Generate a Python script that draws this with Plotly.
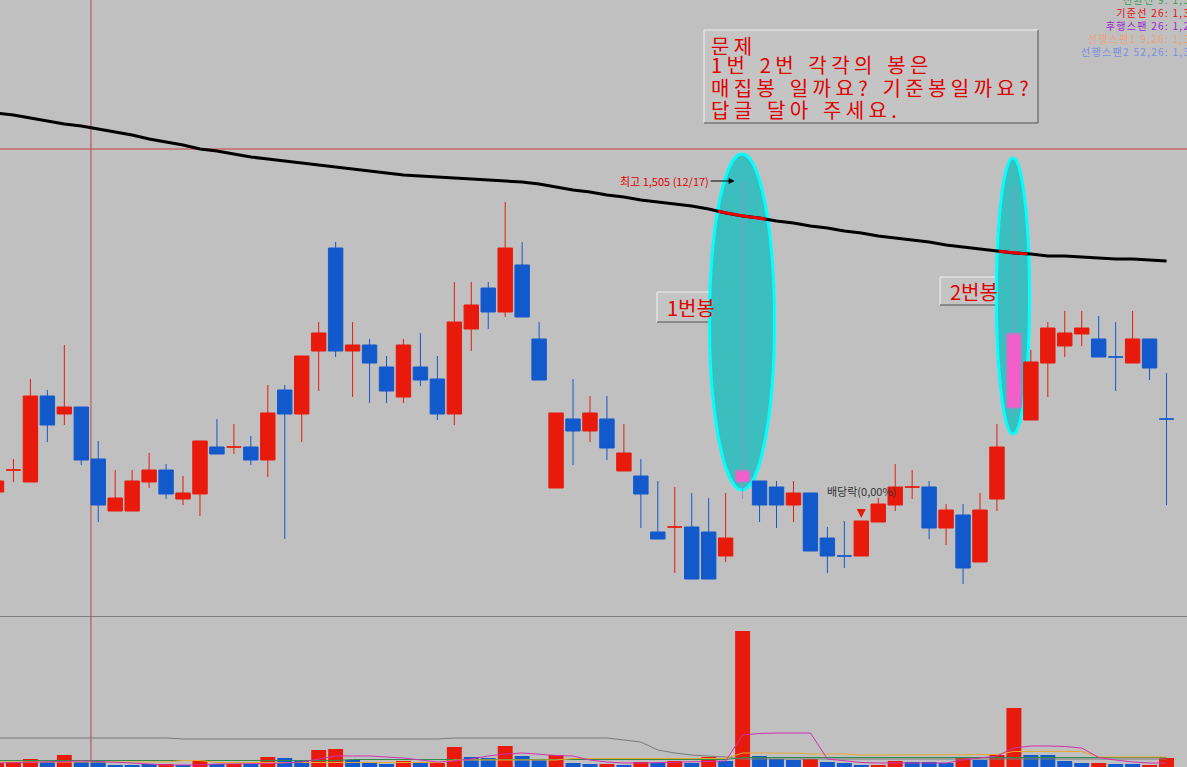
import numpy as np
import plotly.graph_objects as go

# 일봉 (화면에서 읽은 값, 원)
open_ = [1194, 1216, 1204, 1290, 1272, 1279, 1227, 1175, 1175, 1204,
         1216, 1187, 1192, 1239, 1239, 1239, 1226, 1296, 1272, 1335,
         1438, 1335, 1341, 1319, 1289, 1319, 1307, 1272, 1357, 1398,
         1374, 1421, 1347, 1198, 1267, 1255, 1267, 1215, 1210, 1154,
         1159, 1159, 1154, 1130, 1204, 1205, 1199, 1181, 1193, 1148,
         1130, 1130, 1164, 1181, 1199, 1199, 1158, 1171, 1124, 1187,
         1278, 1266, 1323, 1340, 1352, 1347, 1329, 1323, 1347, 1267]
high = [1205, 1227, 1307, 1296, 1341, 1279, 1245, 1216, 1216, 1233,
        1222, 1210, 1245, 1267, 1262, 1250, 1301, 1301, 1330, 1364,
        1444, 1364, 1347, 1330, 1347, 1353, 1330, 1404, 1404, 1404,
        1484, 1444, 1364, 1273, 1307, 1290, 1290, 1262, 1227, 1205,
        1199, 1193, 1188, 1193, 1505, 1205, 1205, 1205, 1193, 1159,
        1165, 1165, 1188, 1222, 1216, 1205, 1182, 1182, 1193, 1262,
        1500, 1336, 1364, 1375, 1375, 1370, 1364, 1375, 1347, 1313]
low = [1194, 1204, 1204, 1244, 1261, 1221, 1164, 1175, 1175, 1198,
       1187, 1181, 1170, 1232, 1232, 1221, 1209, 1147, 1244, 1295,
       1329, 1289, 1283, 1283, 1283, 1300, 1266, 1261, 1335, 1357,
       1369, 1369, 1306, 1198, 1221, 1244, 1226, 1215, 1158, 1147,
       1113, 1107, 1107, 1124, 1187, 1164, 1158, 1164, 1135, 1113,
       1118, 1130, 1164, 1175, 1187, 1147, 1141, 1102, 1124, 1175,
       1273, 1266, 1289, 1329, 1340, 1329, 1295, 1323, 1306, 1181]
close = [1205, 1216, 1290, 1261, 1279, 1226, 1181, 1188, 1205, 1216,
         1192, 1193, 1245, 1232, 1239, 1226, 1273, 1272, 1330, 1353,
         1335, 1341, 1323, 1295, 1341, 1306, 1272, 1364, 1381, 1374,
         1438, 1369, 1306, 1273, 1255, 1273, 1238, 1233, 1192, 1147,
         1159, 1107, 1107, 1148, 1216, 1181, 1181, 1193, 1135, 1130,
         1130, 1165, 1182, 1199, 1199, 1158, 1176, 1118, 1176, 1239,
         1353, 1324, 1358, 1353, 1358, 1329, 1329, 1347, 1318, 1267]
# r 양봉, b 음봉, p 표시한 봉(1번, 2번)
candle_kind = ["r", "r", "r", "b", "r", "b", "b", "r", "r", "r",
               "b", "r", "r", "b", "r", "b", "r", "b", "r", "r",
               "b", "r", "b", "b", "r", "b", "b", "r", "r", "b",
               "r", "b", "b", "r", "b", "r", "b", "r", "b", "b",
               "r", "b", "b", "r", "p", "b", "b", "r", "b", "b",
               "b", "r", "r", "r", "r", "b", "r", "b", "r", "r",
               "p", "r", "r", "r", "r", "b", "b", "r", "b", "b"]

# 이동평균선 (검정 굵은 선)
ma = [1573, 1571, 1568, 1565, 1562, 1560, 1557, 1554, 1551, 1547,
      1544, 1541, 1537, 1535, 1532, 1529, 1527, 1525, 1523, 1521,
      1519, 1517, 1515, 1513, 1511, 1510, 1509, 1508, 1507, 1506,
      1505, 1504, 1502, 1499, 1496, 1494, 1491, 1489, 1486, 1484,
      1482, 1480, 1477, 1473, 1470, 1468, 1465, 1463, 1460, 1458,
      1455, 1453, 1450, 1448, 1446, 1444, 1441, 1439, 1437, 1435,
      1433, 1432, 1430, 1430, 1429, 1428, 1427, 1427, 1426, 1425]

# 거래량 (천주)
vol = [40, 50, 80, 50, 120, 50, 50, 20, 20, 30,
       30, 20, 60, 30, 30, 30, 100, 90, 60, 170,
       180, 70, 50, 30, 60, 40, 40, 200, 100, 90,
       210, 110, 80, 120, 40, 30, 30, 20, 50, 40,
       60, 40, 100, 60, 1360, 110, 80, 70, 80, 50,
       40, 20, 20, 60, 50, 50, 40, 100, 70, 120,
       590, 120, 120, 60, 40, 40, 30, 30, 20, 90]
vol_kind = ["r", "r", "r", "b", "r", "b", "b", "b", "b", "b",
            "r", "b", "r", "b", "r", "b", "r", "b", "b", "r",
            "r", "b", "b", "b", "r", "b", "r", "r", "b", "b",
            "r", "b", "b", "r", "b", "b", "r", "b", "r", "b",
            "r", "b", "r", "b", "r", "b", "b", "b", "r", "b",
            "b", "b", "r", "r", "b", "b", "b", "r", "b", "r",
            "r", "b", "b", "b", "b", "r", "b", "b", "r", "r"]
vol_ma5 = [40, 45, 50, 55, 60, 60, 55, 50, 40, 30,
           20, 20, 20, 30, 30, 30, 35, 40, 50, 80,
           110, 110, 110, 100, 90, 70, 50, 60, 80, 110,
           130, 140, 125, 115, 110, 70, 50, 40, 40, 45,
           50, 50, 55, 60, 320, 335, 340, 340, 340, 80,
           60, 45, 40, 40, 40, 40, 40, 70, 90, 110,
           190, 210, 210, 205, 190, 95, 70, 50, 40, 40]
vol_ma20 = [50, 50, 50, 50, 50, 50, 50, 50, 50, 50,
            50, 65, 65, 45, 45, 45, 45, 45, 45, 45,
            45, 45, 45, 45, 45, 45, 45, 70, 70, 70,
            70, 70, 70, 70, 85, 85, 85, 85, 85, 85,
            85, 85, 85, 85, 140, 140, 140, 140, 130, 130,
            130, 120, 120, 120, 120, 120, 120, 120, 120, 125,
            155, 155, 155, 155, 155, 100, 100, 100, 100, 100]
vol_ma60 = [65, 65, 65, 65, 65, 65, 65, 65, 65, 65,
            65, 65, 65, 65, 65, 65, 65, 65, 65, 65,
            65, 75, 75, 75, 75, 75, 75, 75, 75, 75,
            75, 75, 75, 75, 75, 75, 75, 75, 75, 75,
            75, 75, 75, 75, 95, 95, 95, 95, 95, 95,
            95, 95, 95, 95, 95, 95, 95, 95, 95, 95,
            95, 95, 95, 95, 95, 95, 95, 95, 95, 95]
vol_ma120 = [290, 290, 290, 290, 290, 290, 290, 290, 290, 290,
             290, 280, 280, 280, 280, 280, 280, 280, 280, 280,
             280, 280, 280, 280, 280, 280, 280, 290, 290, 290,
             290, 290, 290, 290, 290, 290, 290, 270, 250, 170,
             140, 120, 110, 100, 80, 80, 80, 80, 80, 80,
             80, 80, 80, 80, 80, 80, 80, 80, 80, 80,
             80, 80, 80, 80, 80, 80, 80, 80, 80, 80]

legend_lines = [("전환선 9: 1,338", "#3a9a5a"),
                ("기준선 26: 1,303", "#e01010"),
                ("후행스팬 26: 1,267", "#9a28d0"),
                ("선행스팬1 9,26: 1,320", "#f0a078"),
                ("선행스팬2 52,26: 1,336", "#7890e0")]

question = ["문제", "1번 2번 각각의 봉은", "매집봉 일까요? 기준봉일까요?", "답글 달아 주세요."]

RED = "#e81a0c"
BLUE = "#1259cc"
PINK = "#f060c8"
BG = "#c0c0c0"
W, H = 1187, 767

idx = list(range(len(open_)))


def X(px):
    return px / W


def Y(py):
    return 1 - py / H


fig = go.Figure()

# 캔들
for k, col, line_col in [("r", RED, RED), ("b", BLUE, BLUE), ("p", PINK, "#9c8cc8")]:
    sel = [i for i in idx if candle_kind[i] == k]
    fig.add_trace(go.Candlestick(
        x=sel,
        open=[open_[i] for i in sel], high=[high[i] for i in sel],
        low=[low[i] for i in sel], close=[close[i] for i in sel],
        increasing=dict(fillcolor=col, line=dict(color=line_col, width=1)),
        decreasing=dict(fillcolor=col, line=dict(color=line_col, width=1)),
        whiskerwidth=0, hoverinfo="skip"))

fig.add_trace(go.Scatter(x=idx, y=ma, mode="lines",
                         line=dict(color="black", width=3), hoverinfo="skip"))

# 원 안쪽 구간은 빨간색으로
for a, b in [(42.55, 45.4), (59.1, 60.8)]:
    xs = np.linspace(a, b, 6)
    fig.add_trace(go.Scatter(x=xs, y=np.interp(xs, idx, ma), mode="lines",
                             line=dict(color="#e80000", width=3), hoverinfo="skip"))

# 거래량
fig.add_trace(go.Bar(x=idx, y=vol, yaxis="y2", width=0.88,
                     marker=dict(color=[RED if c == "r" else BLUE for c in vol_kind], line_width=0),
                     hoverinfo="skip"))
for ys, col in [(vol_ma120, "#7a7a7a"), (vol_ma60, "#2e8b4a"),
                (vol_ma20, "#e8a830"), (vol_ma5, "#d030b0")]:
    fig.add_trace(go.Scatter(x=idx, y=ys, yaxis="y2", mode="lines",
                             line=dict(color=col, width=1), hoverinfo="skip"))

shapes = []


def bevel_box(x0, y0, x1, y1):
    shapes.append(dict(type="rect", xref="paper", yref="paper", layer="below",
                       x0=X(x0), x1=X(x1), y0=Y(y1), y1=Y(y0),
                       fillcolor="#c4c4c4", line_width=0))
    for (ax, ay, bx, by, c) in [(x0, y0, x1, y0, "#f0f0f0"), (x0, y0, x0, y1, "#f0f0f0"),
                                (x0, y1, x1, y1, "#505050"), (x1, y0, x1, y1, "#505050")]:
        shapes.append(dict(type="line", xref="paper", yref="paper", layer="below",
                           x0=X(ax), x1=X(bx), y0=Y(ay), y1=Y(by),
                           line=dict(color=c, width=1)))


# 구분선, 십자선
shapes.append(dict(type="line", xref="paper", yref="paper", x0=0, x1=1, y0=Y(616.5), y1=Y(616.5),
                   line=dict(color="#808080", width=1), layer="below"))
shapes.append(dict(type="line", xref="paper", yref="y", x0=0, x1=1, y0=1537, y1=1537,
                   line=dict(color="#c84040", width=1), layer="below"))
shapes.append(dict(type="line", xref="x", yref="paper", x0=5.57, x1=5.57, y0=0, y1=1,
                   line=dict(color="#b84848", width=1), layer="below"))

bevel_box(704, 30, 1038, 123)
bevel_box(657, 292, 726, 322)
bevel_box(940, 277, 1008, 305)

# 1번, 2번 봉 표시
for x0, x1, y0, y1 in [(42.05, 45.88, 1196, 1532), (58.97, 60.92, 1252, 1528)]:
    shapes.append(dict(type="circle", xref="x", yref="y", x0=x0, x1=x1, y0=y0, y1=y1,
                       fillcolor="#3cbebe", line=dict(color="#00ffff", width=3), layer="below"))

annotations = []


def label(text, x, y, size, color, anchor="center", align="center"):
    annotations.append(dict(x=X(x), y=Y(y), xref="paper", yref="paper", text=text,
                            showarrow=False, xanchor=anchor, yanchor="middle", align=align,
                            font=dict(size=size, color=color)))


# 질문 상자 (굴림체처럼 자간을 넓게)
for t, yy in zip(question, [45, 64, 87.5, 109.5]):
    label('<span style="letter-spacing:4.4px;word-spacing:1.5px">%s</span>' % t,
          709, yy, 20, "#e00000", "left")

label("1번봉", 691, 307, 20, "#e00000")
label("2번봉", 974, 291, 20, "#e00000")
label("배당락(0,00%)", 861, 491, 11, "#333333")

# 우측 상단 지표 값 (화면 밖으로 잘림)
legend_text = "<br>".join('<span style="color:%s;letter-spacing:1.3px">%s</span>' % (c, t)
                          for t, c in legend_lines)
annotations.append(dict(x=X(1206), y=Y(25), xref="paper", yref="paper", text=legend_text,
                        showarrow=False, xanchor="right", yanchor="middle", align="right",
                        font=dict(size=10)))

annotations.append(dict(x=44, y=1505, xref="x", yref="y", text="최고 1,505 (12/17)",
                        showarrow=True, ax=-78, ay=0, standoff=8, arrowhead=2,
                        arrowsize=1, arrowwidth=1.2, arrowcolor="black",
                        font=dict(size=11, color="#e00000")))
annotations.append(dict(x=51, y=1168, xref="x", yref="y", text=" ",
                        showarrow=True, ax=0, ay=-18, arrowhead=2, arrowsize=1.3,
                        arrowwidth=1.4, arrowcolor=RED))

fig.update_layout(
    width=W, height=H, margin=dict(l=0, r=0, t=0, b=0),
    paper_bgcolor=BG, plot_bgcolor=BG, showlegend=False,
    font=dict(family="Noto Sans CJK KR"),
    boxgap=0.15, boxgroupgap=0,
    xaxis=dict(range=[0.2064, 70.208], visible=False, rangeslider=dict(visible=False)),
    yaxis=dict(domain=[1 - 616 / H, 1], range=[1070, 1686], visible=False),
    yaxis2=dict(domain=[0, 150 / H], range=[0, 1500], visible=False, anchor="x"),
    shapes=shapes, annotations=annotations,
)

# 페이지 여백 제거
fig.write_html("out.html", config={"displayModeBar": False},
               post_script="document.body.style.margin='0';")
